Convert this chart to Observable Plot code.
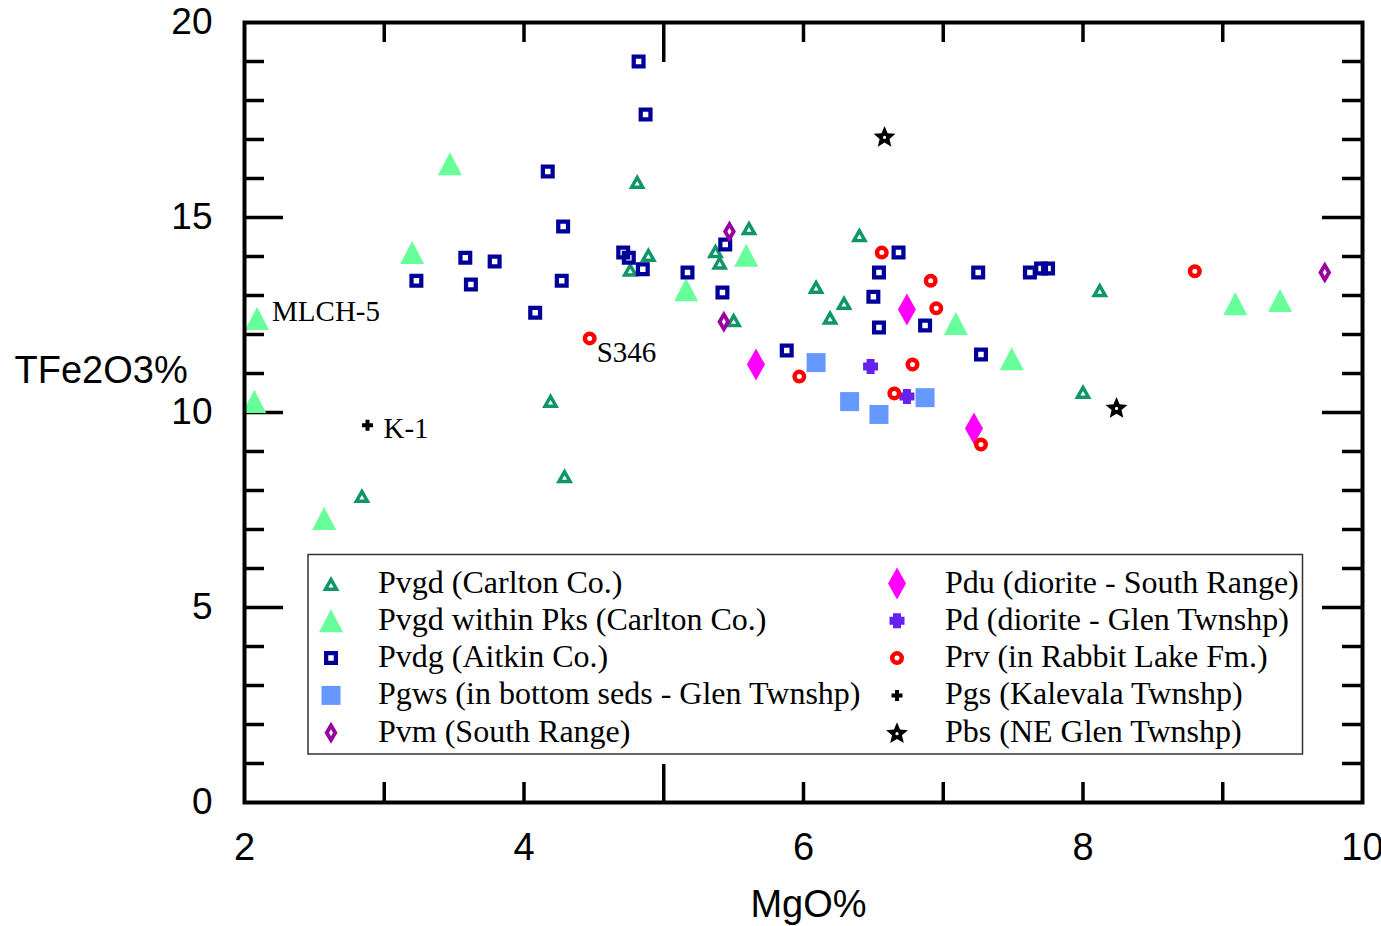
<!DOCTYPE html>
<html><head><meta charset="utf-8">
<script src="https://cdn.jsdelivr.net/npm/d3@7"></script>
<script src="https://cdn.jsdelivr.net/npm/@observablehq/plot@0.6"></script>
<style>
body{margin:0;background:#fff;}
#wrap{position:relative;width:1381px;height:926px;background:#fff;}
#wrap svg{position:absolute;left:0;top:0;}
</style></head><body><div id="wrap"></div>
<script>
// ---------- data ----------
const seriesNames = [
  "Pvgd (Carlton Co.)",
  "Pvgd within Pks (Carlton Co.)",
  "Pvdg (Aitkin Co.)",
  "Pgws (in bottom seds - Glen Twnshp)",
  "Pvm (South Range)",
  "Pdu (diorite - South Range)",
  "Pd (diorite - Glen Twnshp)",
  "Prv (in Rabbit Lake Fm.)",
  "Pgs (Kalevala Twnshp)",
  "Pbs (NE Glen Twnshp)"
];
const pvgdMgO = [2.84,4.19,4.29,4.81,4.89,4.76,5.37,5.40,5.61,5.50,6.09,6.29,6.19,6.40,8.12,8.00];
const pvgdFe  = [7.87,10.31,8.38,15.92,14.05,13.67,14.15,13.85,14.74,12.38,13.23,12.82,12.44,14.56,13.15,10.54];
const pksMgO = [3.47,3.20,2.09,2.07,2.57,5.16,5.59,7.09,7.49,9.09,9.41];
const pksFe  = [16.38,14.10,12.41,10.28,7.28,13.15,14.03,12.28,11.38,12.79,12.87];
const pvdgMgO = [4.82,4.87,4.17,4.28,4.71,4.75,3.58,3.79,3.23,3.62,4.27,4.85,5.17,4.08,5.44,5.42,6.68,6.54,6.50,6.54,6.87,5.88,7.25,7.62,7.70,7.75,7.27];
const pvdgFe  = [19.0,17.64,16.18,14.77,14.10,13.97,13.97,13.87,13.38,13.28,13.38,13.67,13.59,12.56,14.31,13.08,14.10,13.59,12.97,12.18,12.23,11.59,13.59,13.59,13.69,13.69,11.49];
const pgwsMgO = [6.09,6.33,6.54,6.87];
const pgwsFe  = [11.28,10.28,9.95,10.38];
const pvmMgO = [5.47,5.43,9.73];
const pvmFe  = [14.64,12.33,13.59];
const pduMgO = [6.74,5.66,7.22];
const pduFe  = [12.64,11.23,9.59];
const pdMgO = [6.48,6.74];
const pdFe  = [11.18,10.41];
const prvMgO = [4.47,6.56,6.91,6.95,6.78,5.97,6.65,7.27,8.80];
const prvFe  = [11.90,14.10,13.38,12.67,11.23,10.92,10.49,9.18,13.62];
const pgsMgO = [2.88];
const pgsFe  = [9.67];
const pbsMgO = [6.58,8.24];
const pbsFe  = [17.08,10.13];
const labelTexts = ["MLCH-5","S346","K-1"];
const labelMgO = [2.09,4.47,2.88];
const labelFe  = [12.41,11.90,9.67];
const xTickLabels = [2,4,6,8,10];
const yTickLabels = [0,5,10,15,20];
const xMinorTicks = [3,4,6,7,8,9];
const xMajorTicks = [5];
const yMinorTicks = [1,2,3,4,6,7,8,9,11,12,13,14,16,17,18,19];
const yMajorTicks = [5,10,15];

// ---------- symbols (pixel-sized, holes via reverse winding) ----------
function ring(c, pts){ pts.forEach(([x,y],i)=> i ? c.lineTo(x,y) : c.moveTo(x,y)); c.closePath(); }
function triPts(w,h,k){ const cy=h/6; return [[0,cy+k*(-h/2-cy)],[k*w/2,cy+k*(h/2-cy)],[-k*w/2,cy+k*(h/2-cy)]]; }
const openTri = {draw(c){ ring(c, triPts(17,15,1)); ring(c, triPts(17,15,0.3).reverse()); }};
const fillTri = {draw(c){ ring(c, triPts(24,23,1)); }};
const sqPts = s => [[-s/2,-s/2],[s/2,-s/2],[s/2,s/2],[-s/2,s/2]];
const openSq = {draw(c){ ring(c, sqPts(14)); ring(c, sqPts(5.5).reverse()); }};
const fillSq = {draw(c){ ring(c, sqPts(19)); }};
const dmPts = (w,h) => [[0,-h/2],[w/2,0],[0,h/2],[-w/2,0]];
const openDm = {draw(c){ ring(c, dmPts(13,22)); ring(c, dmPts(4,7).reverse()); }};
const fillDm = {draw(c){ ring(c, dmPts(18,32)); }};
const plusPts = (s,t) => { const a=s/2,b=t/2; return [[-b,-a],[b,-a],[b,-b],[a,-b],[a,b],[b,b],[b,a],[-b,a],[-b,b],[-a,b],[-a,-b],[-b,-b]]; };
const fatPlus = {draw(c){ ring(c, plusPts(15,8)); }};
const thinPlus = {draw(c){ ring(c, plusPts(11,4)); }};
const openCirc = {draw(c){ c.moveTo(7,0); c.arc(0,0,7,0,2*Math.PI,false); c.closePath(); c.moveTo(2.5,0); c.arc(0,0,2.5,0,2*Math.PI,true); c.closePath(); }};
const starPts = (R,r) => d3.range(10).map(i => { const a = -Math.PI/2 + i*Math.PI/5, rr = i%2 ? r : R; return [rr*Math.cos(a), rr*Math.sin(a)+1]; });
const star = {draw(c){ ring(c, starPts(11.5,5.2)); c.moveTo(1.6,1); c.arc(0,1,1.6,0,2*Math.PI,true); c.closePath(); }};

const series = [
  {x: pvgdMgO, y: pvgdFe, symbol: openTri, color: "#0f9668"},
  {x: pksMgO,  y: pksFe,  symbol: fillTri, color: "#66ff99"},
  {x: pvdgMgO, y: pvdgFe, symbol: openSq,  color: "#000099"},
  {x: pgwsMgO, y: pgwsFe, symbol: fillSq,  color: "#6699ff"},
  {x: pvmMgO,  y: pvmFe,  symbol: openDm,  color: "#9900a0"},
  {x: pduMgO,  y: pduFe,  symbol: fillDm,  color: "#ff00ff"},
  {x: pdMgO,   y: pdFe,   symbol: fatPlus, color: "#6622ee"},
  {x: prvMgO,  y: prvFe,  symbol: openCirc,color: "#ff0000"},
  {x: pgsMgO,  y: pgsFe,  symbol: thinPlus,color: "#000000"},
  {x: pbsMgO,  y: pbsFe,  symbol: star,    color: "#000000"}
];

// ---------- layout ----------
const W = 1381, H = 926;
const M = {top: 22, right: 19, bottom: 124, left: 244};
const innerW = W - M.left - M.right;
const innerH = H - M.top - M.bottom;
const sans = "Liberation Sans, Arial, Helvetica, sans-serif";
const serif = "Liberation Serif, Times New Roman, serif";
const tk = {stroke: "black", strokeWidth: 3.5};
const labelOffsets = [[15,-7],[7,14],[16,3]];

const marks = [
  Plot.tickY(yMinorTicks, {y: d => d, ...tk, insetRight: innerW - 20}),
  Plot.tickY(yMinorTicks, {y: d => d, ...tk, insetLeft: innerW - 20}),
  Plot.tickY(yMajorTicks, {y: d => d, ...tk, insetRight: innerW - 39}),
  Plot.tickY(yMajorTicks, {y: d => d, ...tk, insetLeft: innerW - 40}),
  Plot.tickX(xMinorTicks, {x: d => d, ...tk, insetBottom: innerH - 20}),
  Plot.tickX(xMinorTicks, {x: d => d, ...tk, insetTop: innerH - 20}),
  Plot.tickX(xMajorTicks, {x: d => d, ...tk, insetBottom: innerH - 40}),
  Plot.tickX(xMajorTicks, {x: d => d, ...tk, insetTop: innerH - 38}),
  ...series.map(s => Plot.dot(d3.range(s.x.length), {
    x: i => s.x[i], y: i => s.y[i], symbol: s.symbol, fill: s.color, stroke: "none"
  })),
  ...labelTexts.map((t, k) => Plot.text([k], {
    x: i => labelMgO[i], y: i => labelFe[i], text: i => labelTexts[i],
    textAnchor: "start", dx: labelOffsets[k][0], dy: labelOffsets[k][1],
    fontFamily: serif, fontSize: 29, fill: "black"
  })),
  Plot.axisY(yTickLabels, {anchor: "left", tickSize: 0, tickPadding: 32, fontSize: 37, fontFamily: sans, label: null, tickFormat: d => d}),
  Plot.axisX(xTickLabels, {anchor: "bottom", tickSize: 0, tickPadding: 31, fontSize: 38, fontFamily: sans, label: null, tickFormat: d => d}),
  Plot.text(["TFe2O3%"], {frameAnchor: "left", text: d => d, textAnchor: "start", dx: -230, dy: -42, fontSize: 38, fontFamily: sans, fill: "black"}),
  Plot.text(["MgO%"], {frameAnchor: "bottom", text: d => d, dx: 5, dy: 114, fontSize: 38, fontFamily: sans, fill: "black"}),
  Plot.frame({stroke: "black", strokeWidth: 4})
];

const chart = Plot.plot({
  width: W, height: H,
  marginTop: M.top, marginRight: M.right, marginBottom: M.bottom, marginLeft: M.left,
  x: {domain: [2, 10], axis: null},
  y: {domain: [0, 20], axis: null},
  style: {background: "white", fontFamily: sans, overflow: "visible"},
  marks
});
document.getElementById("wrap").appendChild(chart);

// ---------- legend (overlay, inside the frame) ----------
const leg = d3.select("#wrap").append("svg").attr("width", W).attr("height", H);
leg.append("rect").attr("x", 308).attr("y", 554.5).attr("width", 994.5).attr("height", 199.5)
  .attr("fill", "white").attr("stroke", "#333").attr("stroke-width", 1.5);
series.forEach((s, i) => {
  const col = i < 5 ? 0 : 1, row = i % 5;
  const base = 592.5 + row * 37.3;
  const sx = col ? 897 : 331, tx = col ? 945 : 378;
  leg.append("path").attr("d", d3.symbol(s.symbol, 1)()).attr("fill", s.color)
    .attr("transform", `translate(${sx},${base - 9})`);
  leg.append("text").attr("x", tx).attr("y", base).text(seriesNames[i])
    .attr("font-family", serif).attr("font-size", 32).attr("fill", "black");
});
</script>
</body></html>
